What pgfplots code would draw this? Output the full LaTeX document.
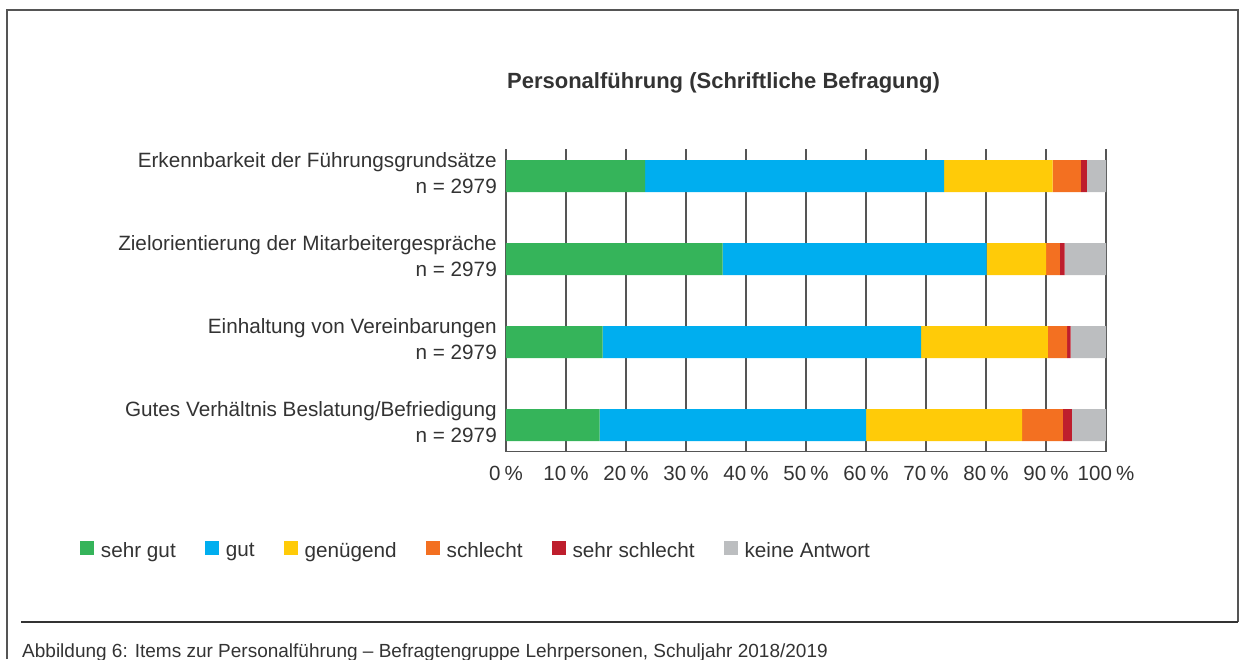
\documentclass[border=0pt]{standalone}
\usepackage{pgfplots}
\pgfplotsset{compat=1.18}
\usepackage{pgfplotstable}
\usepackage{fontspec}
\setmainfont{Liberation Sans}
\definecolor{txt}{RGB}{51,51,51}
\definecolor{gridc}{RGB}{85,85,85}
\definecolor{cgreen}{RGB}{53,180,90}
\definecolor{cblue}{RGB}{0,174,239}
\definecolor{cyellow}{RGB}{255,203,8}
\definecolor{corange}{RGB}{243,112,33}
\definecolor{cred}{RGB}{190,30,45}
\definecolor{cgrey}{RGB}{188,190,192}

\pgfplotstableread{
y sg g gn s ss ka
0 15.6 44.4 26.0 6.8 1.5 5.7
1 16.1 53.1 21.1 3.2 0.6 5.9
2 36.1 44.0 9.9 2.3 0.8 6.9
3 23.2 49.8 18.1 4.7 1.0 3.2
}\data

\begin{document}
\begin{tikzpicture}[x=1pt,y=1pt]
\useasboundingbox (0,0) rectangle (1245,659);
% frame
\draw[gridc, line width=1.2pt] (7,0) -- (7,649) -- (1238,649) -- (1238,37);
\draw[txt, line width=1.2pt] (21,37) -- (1238,37);
\node[anchor=base west, inner sep=0pt, text=txt, font=\fontsize{19}{23}\selectfont] at (22,2) {Abbildung 6: Items zur Personalführung – Befragtengruppe Lehrpersonen, Schuljahr 2018/2019};
\node[text=txt, font=\fontsize{22}{26}\selectfont\bfseries, inner sep=0pt] at (723.5,576) {Personalführung (Schriftliche Befragung)};
\begin{axis}[
  at={(506pt,207.3pt)}, anchor=south west,
  width=600pt, height=302.2pt, scale only axis,
  xbar stacked, bar width=32pt,
  xmin=0, xmax=100, ymin=-0.32, ymax=3.32,
  enlarge y limits=false,
  axis x line*=bottom, axis y line*=left,
  axis line style={-, draw=gridc, line width=1.2pt},
  xmajorgrids, major grid style={draw=gridc, line width=1.2pt},
  major tick length=0pt,
  xtick={0,10,...,100},
  ytick={0,1,2,3},
  yticklabels={{Gutes Verhältnis Beslatung/Befriedigung\\n = 2979},{Einhaltung von Vereinbarungen\\n = 2979},{Zielorientierung der Mitarbeitergespräche\\n = 2979},{Erkennbarkeit der Führungsgrundsätze\\n = 2979}},
  xticklabel={\pgfmathprintnumber[assume math mode=true]{\tick}\hspace{0.2em}\%},
  ticklabel style={font=\fontsize{20.5}{26}\selectfont, text=txt, inner sep=0pt},
  yticklabel style={align=right, xshift=-9pt, yshift=3pt, font=\fontsize{20.7}{26}\selectfont},
  xticklabel style={yshift=-14pt},
  legend columns=6,
  legend style={draw=none, fill=none, at={(axis description cs:-0.71,-0.325)}, anchor=west,
    inner sep=0pt, outer sep=0pt,
    font=\fontsize{20.7}{26}\selectfont, text=txt,
    nodes={inner sep=0pt},
    /tikz/every odd column/.append style={column sep=7pt},
    /tikz/every even column/.append style={column sep=29pt}},
  legend image code/.code={\fill[#1] (0pt,-4pt) rectangle (14pt,10pt);},
]
\addplot[fill=cgreen, draw=none] table[x=sg,y=y] \data;
\addplot[fill=cblue, draw=none] table[x=g,y=y] \data;
\addplot[fill=cyellow, draw=none] table[x=gn,y=y] \data;
\addplot[fill=corange, draw=none] table[x=s,y=y] \data;
\addplot[fill=cred, draw=none] table[x=ss,y=y] \data;
\addplot[fill=cgrey, draw=none] table[x=ka,y=y] \data;
\legend{sehr gut, gut, genügend, schlecht, sehr schlecht, keine Antwort}
\end{axis}
\end{tikzpicture}
\end{document}
